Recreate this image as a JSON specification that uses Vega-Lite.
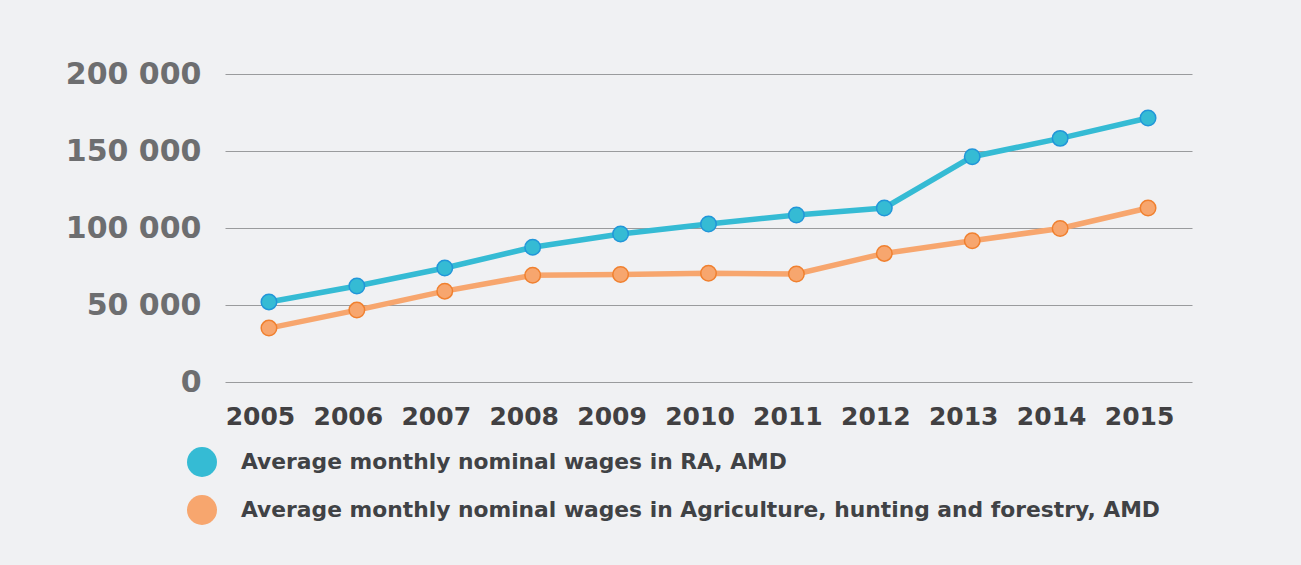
{
  "$schema": "https://vega.github.io/schema/vega-lite/v6.json",
  "autosize": "none",
  "width": 967,
  "height": 308,
  "padding": {"left": 225, "top": 74, "right": 109, "bottom": 183},
  "background": "#f0f1f3",
  "data": {
    "values": [
      {"year": "2005", "series": "Average monthly nominal wages in RA, AMD", "value": 52000},
      {"year": "2006", "series": "Average monthly nominal wages in RA, AMD", "value": 62300},
      {"year": "2007", "series": "Average monthly nominal wages in RA, AMD", "value": 74000},
      {"year": "2008", "series": "Average monthly nominal wages in RA, AMD", "value": 87500},
      {"year": "2009", "series": "Average monthly nominal wages in RA, AMD", "value": 96100},
      {"year": "2010", "series": "Average monthly nominal wages in RA, AMD", "value": 102600},
      {"year": "2011", "series": "Average monthly nominal wages in RA, AMD", "value": 108400},
      {"year": "2012", "series": "Average monthly nominal wages in RA, AMD", "value": 113000},
      {"year": "2013", "series": "Average monthly nominal wages in RA, AMD", "value": 146300},
      {"year": "2014", "series": "Average monthly nominal wages in RA, AMD", "value": 158200},
      {"year": "2015", "series": "Average monthly nominal wages in RA, AMD", "value": 171400},
      {"year": "2005", "series": "Average monthly nominal wages in Agriculture, hunting and forestry, AMD", "value": 35000},
      {"year": "2006", "series": "Average monthly nominal wages in Agriculture, hunting and forestry, AMD", "value": 46700},
      {"year": "2007", "series": "Average monthly nominal wages in Agriculture, hunting and forestry, AMD", "value": 59000},
      {"year": "2008", "series": "Average monthly nominal wages in Agriculture, hunting and forestry, AMD", "value": 69300},
      {"year": "2009", "series": "Average monthly nominal wages in Agriculture, hunting and forestry, AMD", "value": 69800},
      {"year": "2010", "series": "Average monthly nominal wages in Agriculture, hunting and forestry, AMD", "value": 70600},
      {"year": "2011", "series": "Average monthly nominal wages in Agriculture, hunting and forestry, AMD", "value": 70100},
      {"year": "2012", "series": "Average monthly nominal wages in Agriculture, hunting and forestry, AMD", "value": 83500},
      {"year": "2013", "series": "Average monthly nominal wages in Agriculture, hunting and forestry, AMD", "value": 91700},
      {"year": "2014", "series": "Average monthly nominal wages in Agriculture, hunting and forestry, AMD", "value": 99700},
      {"year": "2015", "series": "Average monthly nominal wages in Agriculture, hunting and forestry, AMD", "value": 113000}
    ]
  },
  "encoding": {
    "x": {
      "field": "year", "type": "ordinal",
      "scale": {"type": "point", "padding": 0.5},
      "axis": {
        "title": null, "domain": false, "ticks": false, "grid": false,
        "labelAngle": 0, "labelFont": "DejaVu Sans", "labelFontWeight": "bold",
        "labelFontSize": 25, "labelColor": "#414042", "labelPadding": 22, "labelOffset": -9
      }
    },
    "y": {
      "field": "value", "type": "quantitative",
      "scale": {"domain": [0, 200000]},
      "axis": {
        "title": null, "domain": false, "ticks": false, "values": [0, 50000, 100000, 150000, 200000],
        "labelExpr": "datum.value == 0 ? '0' : format(datum.value/1000, 'd') + ' 000'",
        "labelFont": "DejaVu Sans", "labelFontWeight": "bold", "labelFontSize": 30,
        "labelColor": "#6d6e70", "labelPadding": 24,
        "gridColor": "#9a9b9d", "gridWidth": 1
      }
    },
    "color": {
      "field": "series", "type": "nominal",
      "scale": {
        "domain": ["Average monthly nominal wages in RA, AMD", "Average monthly nominal wages in Agriculture, hunting and forestry, AMD"],
        "range": ["#35bbd4", "#f7a66e"]
      },
      "legend": {
        "title": null, "orient": "none", "legendX": -38, "legendY": 373,
        "direction": "vertical", "symbolType": "circle", "symbolSize": 900,
        "symbolStrokeWidth": 0, "symbolOpacity": 1, "rowPadding": 18,
        "labelFont": "DejaVu Sans", "labelFontWeight": "bold", "labelFontSize": 21.8,
        "labelColor": "#404245", "labelOffset": 24, "padding": 0, "labelLimit": 1000
      }
    }
  },
  "layer": [
    {"mark": {"type": "line", "strokeWidth": 5.5}},
    {
      "mark": {"type": "point", "filled": true, "size": 240, "strokeWidth": 1.5, "opacity": 1},
      "encoding": {
        "stroke": {
          "field": "series", "type": "nominal",
          "scale": {
            "domain": ["Average monthly nominal wages in RA, AMD", "Average monthly nominal wages in Agriculture, hunting and forestry, AMD"],
            "range": ["#2196d9", "#f0802f"]
          },
          "legend": null
        }
      }
    }
  ],
  "config": {"view": {"stroke": null}}
}
